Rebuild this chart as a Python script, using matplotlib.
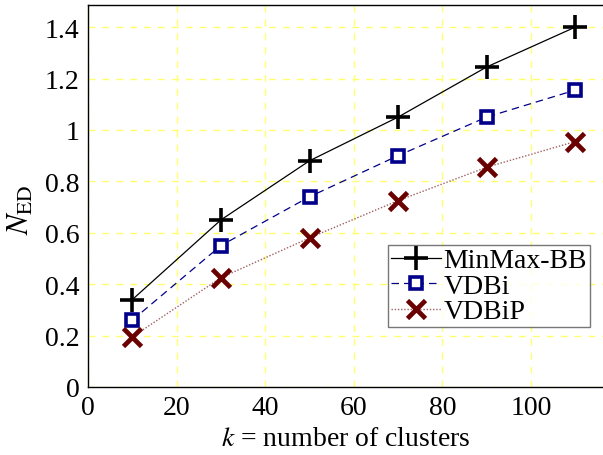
import matplotlib
matplotlib.use("Agg")
import matplotlib.pyplot as plt

plt.rcParams['font.family'] = ['Liberation Serif', 'DejaVu Serif']
plt.rcParams['mathtext.fontset'] = 'stix'

k = [10, 30, 50, 70, 90, 110]
minmax_bb = [0.34, 0.65, 0.88, 1.05, 1.245, 1.40]
vdbi = [0.26, 0.55, 0.74, 0.90, 1.05, 1.155]
vdbip = [0.195, 0.425, 0.58, 0.725, 0.855, 0.955]

xticks = [0, 20, 40, 60, 80, 100]
yticks = [0, 0.2, 0.4, 0.6, 0.8, 1.0, 1.2, 1.4]
yticklabels = ['0', '0.2', '0.4', '0.6', '0.8', '1', '1.2', '1.4']

W, H = 603, 456
fig = plt.figure(figsize=(W / 100, H / 100), dpi=100)
left, right, bottom, top = 88, 603, 456 - 388, 456 - 6
ax = fig.add_axes([left / W, bottom / H, (right - left) / W, (top - bottom) / H])

ax.plot(k, minmax_bb, color='black', lw=0.9, ls='-', marker='+', ms=17, mew=2.6,
        label='MinMax-BB')
ax.plot(k, vdbi, color='#00008a', lw=0.9, ls=(0, (6, 4)), marker='s', ms=8.5, mew=2.6,
        mfc='white', mec='#00008a', label='VDBi')
ax.plot(k, vdbip, color='#a06060', lw=1.0, ls=(0, (1, 1.3)), marker='x', ms=13, mew=3.4,
        mec='#6a0000', label='VDBiP')

ax.set_xlim(0, (603 - 88) / 4.43)
ax.set_ylim(0, 1.486)
ax.set_xticks(xticks)
ax.set_yticks(yticks)
ax.set_yticklabels(yticklabels)
ax.tick_params(labelsize=20, length=0, pad=6)
ax.grid(True, color='#ffff70', ls=(0, (5, 5)), lw=1.0)
ax.set_axisbelow(True)
ax.spines['right'].set_visible(False)
for s in ['left', 'bottom', 'top']:
    ax.spines[s].set_linewidth(1.0)

ax.set_xlabel(r'$k$ = number of clusters', fontsize=20, labelpad=4)
ax.set_ylabel(r'$N_{\mathrm{ED}}$', fontsize=22)
ax.yaxis.set_label_coords((36 - 88) / (603 - 88), (456 - 210 - bottom) / (top - bottom))

leg = ax.legend(loc='lower left', bbox_to_anchor=((388 - 88) / (603 - 88), (456 - 328 - bottom) / (top - bottom)),
                fontsize=20, frameon=True, fancybox=False, borderpad=0.1,
                handlelength=1.8, handletextpad=0.1, labelspacing=0.0, borderaxespad=0)
leg.get_frame().set_edgecolor('#555555')
leg.get_frame().set_linewidth(1.0)

fig.savefig('out.png', dpi=100)
